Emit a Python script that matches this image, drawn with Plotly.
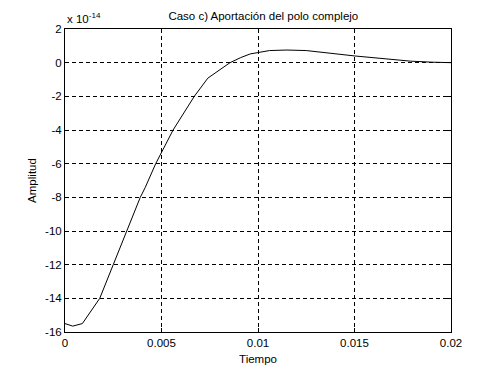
import plotly.graph_objects as go

# Time (s)
tiempo = [0, 0.0004, 0.0009, 0.0018, 0.0025, 0.0032, 0.0039, 0.00415, 0.0047,
          0.0056, 0.0067, 0.0074, 0.00855, 0.0091, 0.0096, 0.0101, 0.0106,
          0.0115, 0.0125, 0.015, 0.0165, 0.0179, 0.019, 0.02]
# Amplitude in units of 1e-14
amplitud_e14 = [-15.5, -15.65, -15.5, -14, -12, -10, -8, -7.43, -6,
                -4, -2, -0.92, 0, 0.3, 0.52, 0.62, 0.72,
                0.75, 0.72, 0.4, 0.22, 0.09, 0.03, 0]

x_ticks = [0, 0.005, 0.01, 0.015, 0.02]
x_ticklabels = ["0", "0.005", "0.01", "0.015", "0.02"]
y_ticks = [2, 0, -2, -4, -6, -8, -10, -12, -14, -16]
y_ticklabels = [str(v) for v in y_ticks]

font = dict(family="Liberation Sans, Arial, sans-serif", size=11.5, color="black")

fig = go.Figure()
fig.add_trace(go.Scatter(x=tiempo, y=amplitud_e14, mode="lines",
                         line=dict(color="black", width=1), showlegend=False))

axis_common = dict(showline=True, linecolor="black", linewidth=1, mirror="ticks",
                   showgrid=True, gridcolor="black", griddash="4px,3px", gridwidth=1,
                   ticks="inside", ticklen=4, tickcolor="black", zeroline=False,
                   tickfont=font, automargin=False)

fig.update_xaxes(range=[0, 0.02], tickvals=x_ticks, ticktext=x_ticklabels,
                 title=dict(text="Tiempo", font=font, standoff=7), **axis_common)
fig.update_yaxes(range=[-16, 2], tickvals=y_ticks, ticktext=y_ticklabels,
                 title=dict(text="Amplitud", font=font, standoff=6), **axis_common)

# The page body has an 8px default margin; compensate so the plot area
# lands at the reference position.
fig.update_layout(
    width=491, height=366,
    margin=dict(l=57, r=48, t=21, b=42),
    paper_bgcolor="white", plot_bgcolor="white",
    font=font,
    title=dict(text="Caso c) Aportación del polo complejo", x=0.52, xanchor="center",
               y=0.977, yanchor="middle", font=font),
    annotations=[dict(text="x 10<sup>-14</sup>", xref="paper", yref="paper",
                      x=0, y=1, xanchor="left", yanchor="bottom", yshift=2,
                      showarrow=False, font=font)],
)

fig.write_html("out.html")
